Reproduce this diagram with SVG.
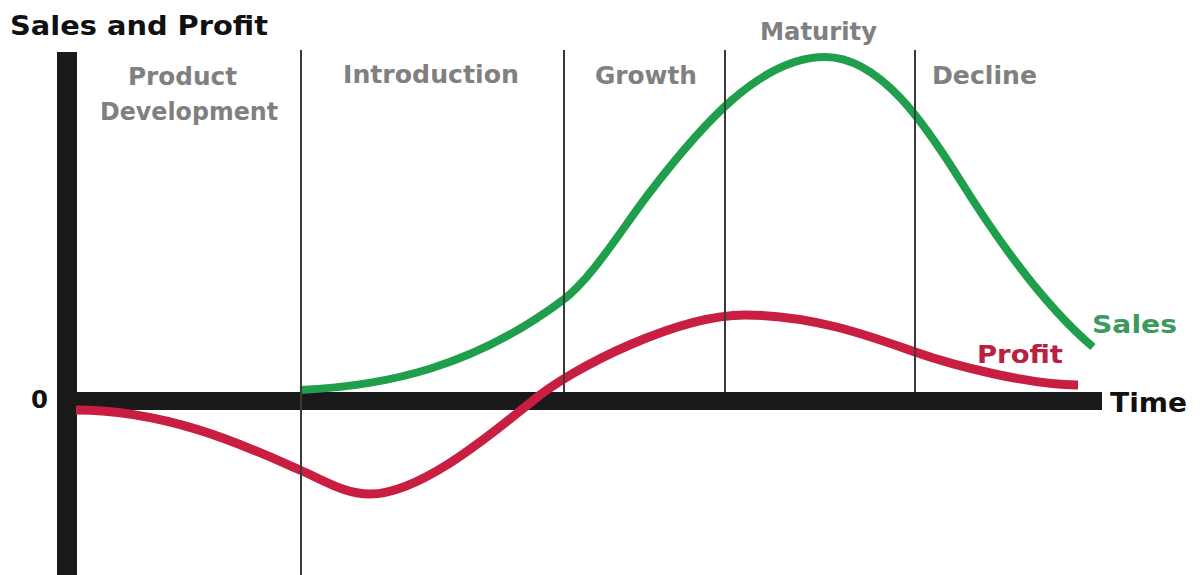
<svg xmlns="http://www.w3.org/2000/svg" width="1200" height="575" viewBox="0 0 1200 575">
<style>
.t{font-family:"DejaVu Sans","Liberation Sans",Arial,sans-serif;font-weight:bold}
.blk{fill:#111}
.gry{fill:#808080}
.div{stroke:#3a3a3a;stroke-width:2;fill:none}
.crv{fill:none;stroke-linejoin:round}
</style>
<rect width="1200" height="575" fill="#fff"/>
<g id="axes">
<rect x="57" y="52" width="20" height="523" fill="#1a1a1a"/>
<rect x="57" y="392" width="1045" height="18" fill="#1a1a1a"/>
</g>
<g id="curves">
<path id="sales-curve" class="crv" stroke="#1f9e4b" stroke-width="8" d="M300,390 C388,386 475,366 563,300 C592,278 621,230 650,192 C700,127 760,57 825,57 C880,57 925,124 960,180 C1000,244 1048,309 1093,347"/>
<path id="profit-curve" class="crv" stroke="#c81e42" stroke-width="9" d="M76,410 C170,410 250,448 300,470 C325,481 345,494 370,494 C420,494 490,435 530,403 C575,365 680,315 745,315 C815,315 875,338 915,352 C955,366 1030,385 1078,385"/>
</g>
<g id="dividers">
<line class="div" x1="301" y1="50" x2="301" y2="575"/>
<line class="div" x1="564" y1="50" x2="564" y2="392"/>
<line class="div" x1="725" y1="50" x2="725" y2="392"/>
<line class="div" x1="915" y1="50" x2="915" y2="392"/>
</g>
<g id="labels">
<text class="t blk" x="10" y="35" font-size="26" textLength="258" lengthAdjust="spacingAndGlyphs">Sales and Profit</text>
<text class="t gry" x="128" y="85" font-size="24" textLength="109" lengthAdjust="spacingAndGlyphs">Product</text>
<text class="t gry" x="100" y="120" font-size="24" textLength="178" lengthAdjust="spacingAndGlyphs">Development</text>
<text class="t gry" x="343" y="83" font-size="24" textLength="176" lengthAdjust="spacingAndGlyphs">Introduction</text>
<text class="t gry" x="595" y="84" font-size="24" textLength="102" lengthAdjust="spacingAndGlyphs">Growth</text>
<text class="t gry" x="760" y="40" font-size="24" textLength="117" lengthAdjust="spacingAndGlyphs">Maturity</text>
<text class="t gry" x="932" y="84" font-size="24" textLength="105" lengthAdjust="spacingAndGlyphs">Decline</text>
<text class="t" fill="#3d9a5f" x="1092" y="333" font-size="25" textLength="85" lengthAdjust="spacingAndGlyphs">Sales</text>
<text class="t" fill="#b8213f" x="977" y="363" font-size="25" textLength="86" lengthAdjust="spacingAndGlyphs">Profit</text>
<text class="t blk" x="1110" y="412" font-size="27" textLength="77" lengthAdjust="spacingAndGlyphs">Time</text>
<text class="t blk" x="31" y="408" font-size="25" textLength="17" lengthAdjust="spacingAndGlyphs">0</text>
</g>
</svg>
